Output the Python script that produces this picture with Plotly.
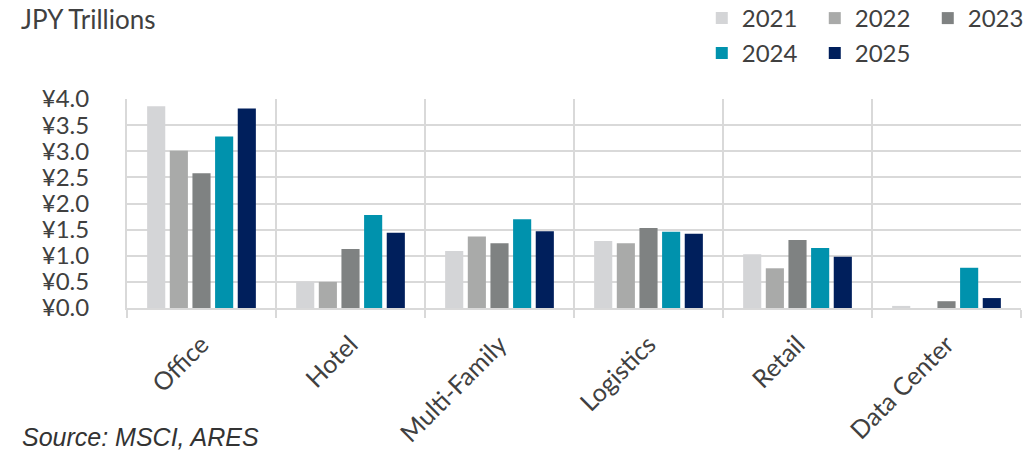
import plotly.graph_objects as go

categories = ["Office", "Hotel", "Multi-Family", "Logistics", "Retail", "Data Center"]
years = ["2021", "2022", "2023", "2024", "2025"]
v2021 = [3.86, 0.50, 1.09, 1.28, 1.03, 0.04]
v2022 = [3.01, 0.50, 1.37, 1.24, 0.76, 0.0]
v2023 = [2.58, 1.13, 1.24, 1.53, 1.30, 0.13]
v2024 = [3.28, 1.78, 1.70, 1.46, 1.15, 0.77]
v2025 = [3.82, 1.44, 1.47, 1.42, 0.98, 0.19]
y_ticks = [0.0, 0.5, 1.0, 1.5, 2.0, 2.5, 3.0, 3.5, 4.0]
y_labels = ["¥0.0", "¥0.5", "¥1.0", "¥1.5", "¥2.0", "¥2.5", "¥3.0", "¥3.5", "¥4.0"]

series = [v2021, v2022, v2023, v2024, v2025]
colors = ["#d4d5d7", "#a9aaa9", "#7f8282", "#0092ad", "#001f5c"]
legends = ["legend", "legend", "legend", "legend2", "legend2"]

FONT = "Lato"
TXT = "#404040"

fig = go.Figure()
for name, vals, col, lg in zip(years, series, colors, legends):
    fig.add_trace(go.Bar(
        x=categories, y=vals, name=name, marker=dict(color=col, line=dict(width=0)),
        legend=lg,
    ))

fig.update_layout(
    width=1029, height=453,
    margin=dict(l=127, r=8, t=99, b=145, autoexpand=False),
    paper_bgcolor="white", plot_bgcolor="white",
    barmode="group", bargap=0.24, bargroupgap=0.2,
    font=dict(family=FONT, color=TXT),
    legend=dict(orientation="h", xref="container", yref="paper",
                x=0.682, y=1.4928, xanchor="left", yanchor="top",
                entrywidth=68, entrywidthmode="pixels",
                font=dict(size=24, family=FONT, color=TXT),
                itemclick=False, bgcolor="rgba(0,0,0,0)", tracegroupgap=0),
    legend2=dict(orientation="h", xref="container", yref="paper",
                 x=0.682, y=1.3254, xanchor="left", yanchor="top",
                 entrywidth=68, entrywidthmode="pixels",
                 font=dict(size=24, family=FONT, color=TXT),
                 itemclick=False, bgcolor="rgba(0,0,0,0)"),
    showlegend=True,
)

fig.update_xaxes(
    type="category", tickson="boundaries", showgrid=True, gridcolor="#d9d9d9", gridwidth=2,
    ticks="outside", ticklen=8, tickcolor="#d9d9d9", tickwidth=2,
    showline=True, linecolor="#d9d9d9", linewidth=2,
    tickangle=-45, tickfont=dict(size=25, family=FONT, color=TXT),
    ticklabelstandoff=10,
)
fig.update_yaxes(
    range=[0, 4.0], tickvals=y_ticks, ticktext=y_labels,
    showgrid=True, gridcolor="#d9d9d9", gridwidth=2, zeroline=False,
    showline=True, linecolor="#d9d9d9", linewidth=2,
    tickfont=dict(size=24, family=FONT, color=TXT), ticks="", ticklabelstandoff=31,
)

fig.add_annotation(text="JPY Trillions", xref="paper", yref="paper",
                   x=0, y=1.0, xanchor="left", yanchor="middle",
                   xshift=-127 + 19, yshift=99 - 19,
                   showarrow=False, font=dict(size=26, family=FONT, color=TXT))
fig.add_annotation(text="<i>Source: MSCI, ARES</i>", xref="paper", yref="paper",
                   x=0, y=0, xanchor="left", yanchor="middle",
                   xshift=-127 + 20, yshift=-(437 - 308),
                   showarrow=False, font=dict(size=25, family="Liberation Sans", color="#333333"))

fig.write_html("out.html")
